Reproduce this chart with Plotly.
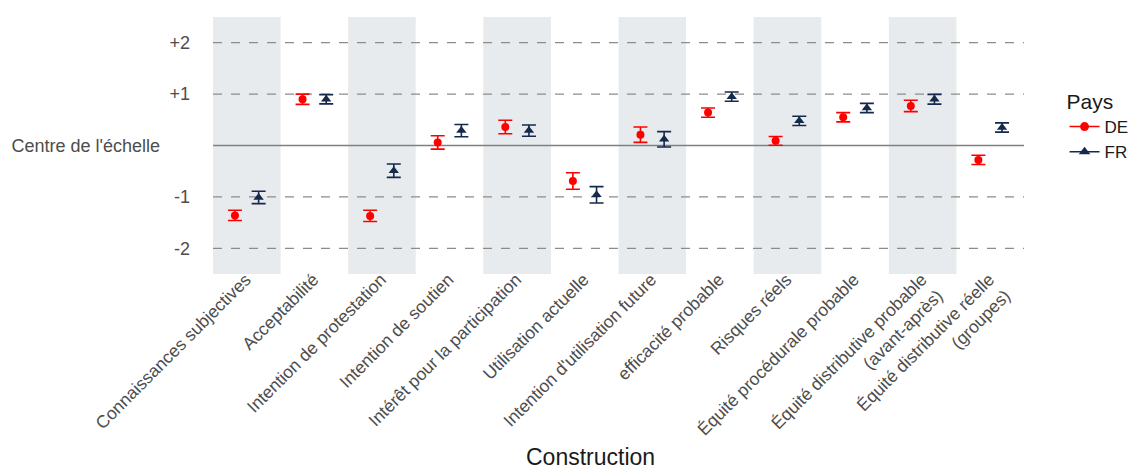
import plotly.graph_objects as go

categories = [
    "Connaissances subjectives", "Acceptabilité", "Intention de protestation",
    "Intention de soutien", "Intérêt pour la participation", "Utilisation actuelle",
    "Intention d'utilisation future", "efficacité probable", "Risques réels",
    "Équité procédurale probable", "Équité distributive probable<br>(avant-après)",
    "Équité distributive réelle<br>(groupes)",
]
de_mean = [-1.36, 0.90, -1.37, 0.06, 0.36, -0.69, 0.21, 0.64, 0.09, 0.55, 0.77, -0.28]
de_err = [0.10, 0.10, 0.11, 0.13, 0.13, 0.16, 0.15, 0.09, 0.085, 0.09, 0.11, 0.09]
fr_mean = [-1.01, 0.90, -0.49, 0.29, 0.29, -0.96, 0.12, 0.95, 0.48, 0.73, 0.90, 0.35]
fr_err = [0.12, 0.09, 0.13, 0.12, 0.11, 0.16, 0.15, 0.09, 0.09, 0.09, 0.095, 0.09]
ytick_vals = [2, 1, 0, -1, -2]
ytick_text = ["+2", "+1", "Centre de l'échelle" + "\u00a0" * 6, "-1", "-2"]

RED = "#FF0000"
NAVY = "#14294B"
GREY_TXT = "#4D4D4D"
FONT = "Liberation Sans"
dodge = 0.175

xs = list(range(1, len(categories) + 1))
fig = go.Figure()

for i in xs:
    if i % 2 == 1:
        fig.add_shape(type="rect", xref="x", yref="paper", x0=i - 0.5, x1=i + 0.5,
                      y0=0, y1=1, fillcolor="#E8EBED", line_width=0, layer="below")

for v in ytick_vals:
    fig.add_shape(type="line", xref="paper", yref="y", x0=0, x1=1, y0=v, y1=v,
                  line=dict(color="#8C8C8C" if v != 0 else "#7F7F7F", width=1.3,
                            dash="solid" if v == 0 else "dash"), layer="below")

fig.add_trace(go.Scatter(
    x=[x - dodge for x in xs], y=de_mean, mode="markers", showlegend=False,
    marker=dict(symbol="circle", size=8, color=RED),
    error_y=dict(type="data", array=de_err, color=RED, thickness=1.6, width=7),
))
fig.add_trace(go.Scatter(
    x=[x + dodge for x in xs], y=fr_mean, mode="markers", showlegend=False,
    marker=dict(symbol="triangle-up", size=9, color=NAVY),
    error_y=dict(type="data", array=fr_err, color=NAVY, thickness=1.6, width=7),
))
# legend entries
fig.add_trace(go.Scatter(x=[None], y=[None], mode="lines+markers", name="DE",
                         marker=dict(symbol="circle", size=9, color=RED),
                         line=dict(color=RED, width=1.5)))
fig.add_trace(go.Scatter(x=[None], y=[None], mode="lines+markers", name="FR",
                         marker=dict(symbol="triangle-up", size=10, color=NAVY),
                         line=dict(color=NAVY, width=1.5)))

# page body has an 8px margin; the figure is sized/margined to compensate
fig.update_layout(
    width=1139, height=468,
    margin=dict(l=205, r=123, t=9, b=202),
    plot_bgcolor="white", paper_bgcolor="white",
    font=dict(family=FONT, color=GREY_TXT, size=17),
    legend=dict(title=dict(text="Pays", font=dict(size=21, color="#1A1A1A")),
                x=1.05, y=0.748, xanchor="left", yanchor="top",
                font=dict(size=17, color="#1A1A1A")),
    xaxis=dict(range=[0.5, 12.5], tickvals=xs, ticktext=categories, tickangle=-45,
               showgrid=False, zeroline=False, showline=False, ticks="",
               automargin=False, tickfont=dict(size=17.5, color=GREY_TXT),
               ticklabelstandoff=-9, ticklabelshift=-1),
    yaxis=dict(range=[-2.5, 2.5], tickvals=ytick_vals, ticktext=ytick_text,
               showgrid=False, zeroline=False, showline=False, ticks="",
               automargin=False, tickfont=dict(size=18, color=GREY_TXT),
               ticklabelstandoff=22),
    annotations=[dict(text="Construction", xref="paper", yref="paper", x=0.466,
                      y=-0.712, xanchor="center", yanchor="middle", showarrow=False,
                      font=dict(size=23, color="#1A1A1A"))],
)

fig.write_html("out.html")
